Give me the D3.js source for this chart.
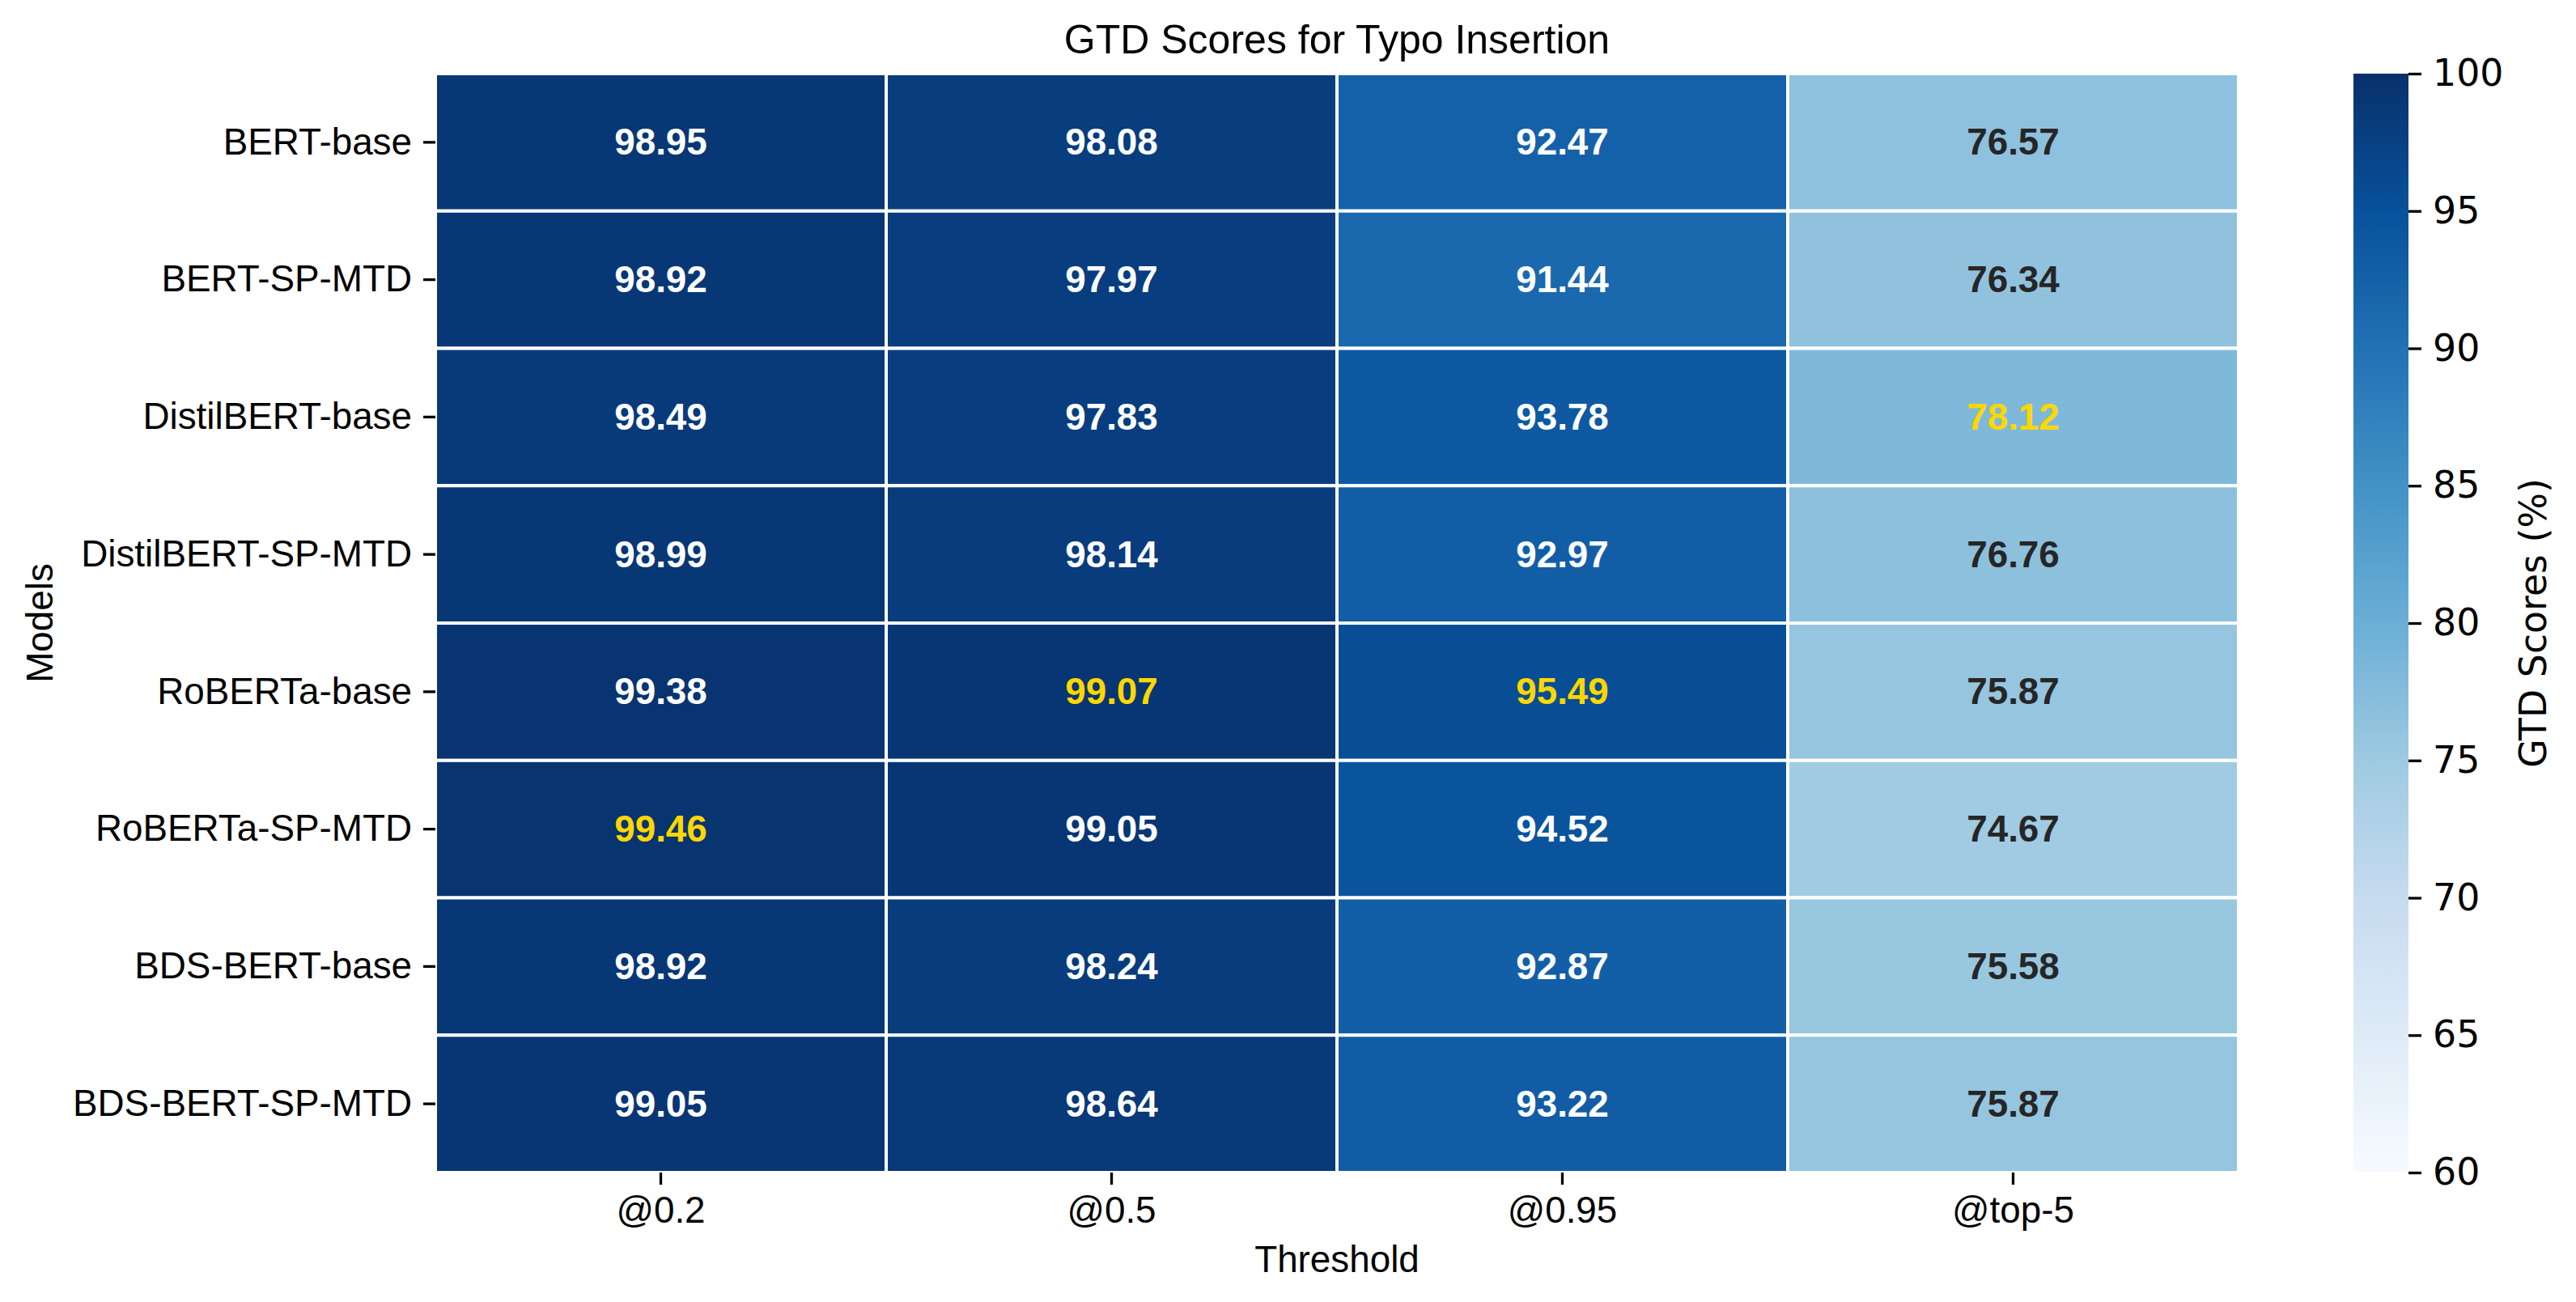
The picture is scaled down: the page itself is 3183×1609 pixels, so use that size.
<!DOCTYPE html>
<html>
<head>
<meta charset="utf-8">
<script src="https://cdn.jsdelivr.net/npm/d3@7"></script>
<style>
  body { margin: 0; background: #fff; }
  svg { display: block; }
</style>
</head>
<body>
<svg id="chart" width="3183" height="1609"></svg>
<script>
const models = [
  'BERT-base',
  'BERT-SP-MTD',
  'DistilBERT-base',
  'DistilBERT-SP-MTD',
  'RoBERTa-base',
  'RoBERTa-SP-MTD',
  'BDS-BERT-base',
  'BDS-BERT-SP-MTD',
];
const thresholds = ['@0.2', '@0.5', '@0.95', '@top-5'];

// one row per model, one value per threshold
const scores = [
  [98.95, 98.08, 92.47, 76.57],
  [98.92, 97.97, 91.44, 76.34],
  [98.49, 97.83, 93.78, 78.12],
  [98.99, 98.14, 92.97, 76.76],
  [99.38, 99.07, 95.49, 75.87],
  [99.46, 99.05, 94.52, 74.67],
  [98.92, 98.24, 92.87, 75.58],
  [99.05, 98.64, 93.22, 75.87],
];
const colorTicks = [60, 65, 70, 75, 80, 85, 90, 95, 100];

// matplotlib "Blues" anchors (linear between them)
const bluesStops = ['#f7fbff', '#deebf7', '#c6dbef', '#9ecae1', '#6baed6',
  '#4292c6', '#2171b5', '#08519c', '#08306b'];

const vmin = 60;
const vmax = 100;
const sans = 'Liberation Sans, Arial, sans-serif';
const dejavu = 'DejaVu Sans, sans-serif';
const fs = 45.8;

const box = { left: 538, right: 2766, top: 91, bottom: 1449 };
const cbar = { left: 2908, right: 2976 };

const svg = d3.select('#chart');

const color = d3.scaleLinear()
  .domain(d3.range(bluesStops.length).map(i => vmin + (vmax - vmin) * i / (bluesStops.length - 1)))
  .range(bluesStops)
  .interpolate(d3.interpolateRgb)
  .clamp(true);

const xScale = d3.scaleBand().domain(thresholds).range([box.left, box.right]);
const yScale = d3.scaleBand().domain(models).range([box.top, box.bottom]);

const colMax = thresholds.map((_, j) => d3.max(scores, r => r[j]));

const cells = [];
scores.forEach((row, i) => {
  row.forEach((v, j) => {
    cells.push({ model: models[i], thr: thresholds[j], v, best: v === colMax[j] });
  });
});

const textColor = d => {
  if (d.best) return '#ffd700';
  const c = d3.rgb(color(d.v));
  const lin = u => {
    u /= 255;
    return u <= 0.03928 ? u / 12.92 : Math.pow((u + 0.055) / 1.055, 2.4);
  };
  const lum = 0.2126 * lin(c.r) + 0.7152 * lin(c.g) + 0.0722 * lin(c.b);
  return lum > 0.408 ? '#262626' : '#ffffff';
};

const cellG = svg.append('g');
cellG.selectAll('rect')
  .data(cells)
  .enter()
  .append('rect')
  .attr('x', d => xScale(d.thr))
  .attr('y', d => yScale(d.model))
  .attr('width', xScale.bandwidth())
  .attr('height', yScale.bandwidth())
  .style('fill', d => color(d.v))
  .style('stroke', '#fff')
  .style('stroke-width', 4);

cellG.selectAll('text')
  .data(cells)
  .enter()
  .append('text')
  .attr('x', d => xScale(d.thr) + xScale.bandwidth() / 2)
  .attr('y', d => yScale(d.model) + yScale.bandwidth() / 2)
  .attr('text-anchor', 'middle')
  .attr('dominant-baseline', 'central')
  .style('font-family', sans)
  .style('font-weight', 'bold')
  .style('font-size', `${fs}px`)
  .style('fill', textColor)
  .text(d => d.v.toFixed(2));

// axes
const styleAxis = (g, family) => {
  g.select('.domain').remove();
  g.selectAll('.tick line').style('stroke', '#000').style('stroke-width', 3.3);
  g.selectAll('.tick text')
    .style('font-family', family)
    .style('font-size', `${fs}px`)
    .style('fill', '#000');
};

svg.append('g')
  .attr('transform', `translate(0,${box.bottom})`)
  .call(d3.axisBottom(xScale).tickSize(15).tickPadding(14))
  .call(g => styleAxis(g, sans));

svg.append('g')
  .attr('transform', `translate(${box.left},0)`)
  .call(d3.axisLeft(yScale).tickSize(15).tickPadding(14))
  .call(g => styleAxis(g, sans));

// title + axis labels
svg.append('text')
  .attr('x', (box.left + box.right) / 2)
  .attr('y', 66)
  .attr('text-anchor', 'middle')
  .style('font-family', sans)
  .style('font-size', '50px')
  .text('GTD Scores for Typo Insertion');

svg.append('text')
  .attr('x', (box.left + box.right) / 2)
  .attr('y', 1572)
  .attr('text-anchor', 'middle')
  .style('font-family', sans)
  .style('font-size', `${fs}px`)
  .text('Threshold');

svg.append('text')
  .attr('transform', `translate(65,${(box.top + box.bottom) / 2}) rotate(-90)`)
  .attr('text-anchor', 'middle')
  .style('font-family', sans)
  .style('font-size', `${fs}px`)
  .text('Models');

// colorbar
const cScale = d3.scaleLinear().domain([vmin, vmax]).range([box.bottom, box.top]);

const grad = svg.append('defs')
  .append('linearGradient')
  .attr('id', 'cbar-grad')
  .attr('x1', 0).attr('y1', 1).attr('x2', 0).attr('y2', 0);
grad.selectAll('stop')
  .data(color.domain())
  .enter()
  .append('stop')
  .attr('offset', d => (d - vmin) / (vmax - vmin))
  .attr('stop-color', d => color(d));

svg.append('rect')
  .attr('x', cbar.left)
  .attr('y', cScale(vmax))
  .attr('width', cbar.right - cbar.left)
  .attr('height', cScale(vmin) - cScale(vmax))
  .style('fill', 'url(#cbar-grad)');

svg.append('g')
  .attr('transform', `translate(${cbar.right},0)`)
  .call(d3.axisRight(cScale).tickValues(colorTicks).tickSize(16).tickPadding(14))
  .call(g => styleAxis(g, dejavu));

svg.append('text')
  .attr('transform', `translate(3146,${(box.top + box.bottom) / 2}) rotate(-90)`)
  .attr('text-anchor', 'middle')
  .style('font-family', dejavu)
  .style('font-size', `${fs}px`)
  .text('GTD Scores (%)');
</script>
</body>
</html>
